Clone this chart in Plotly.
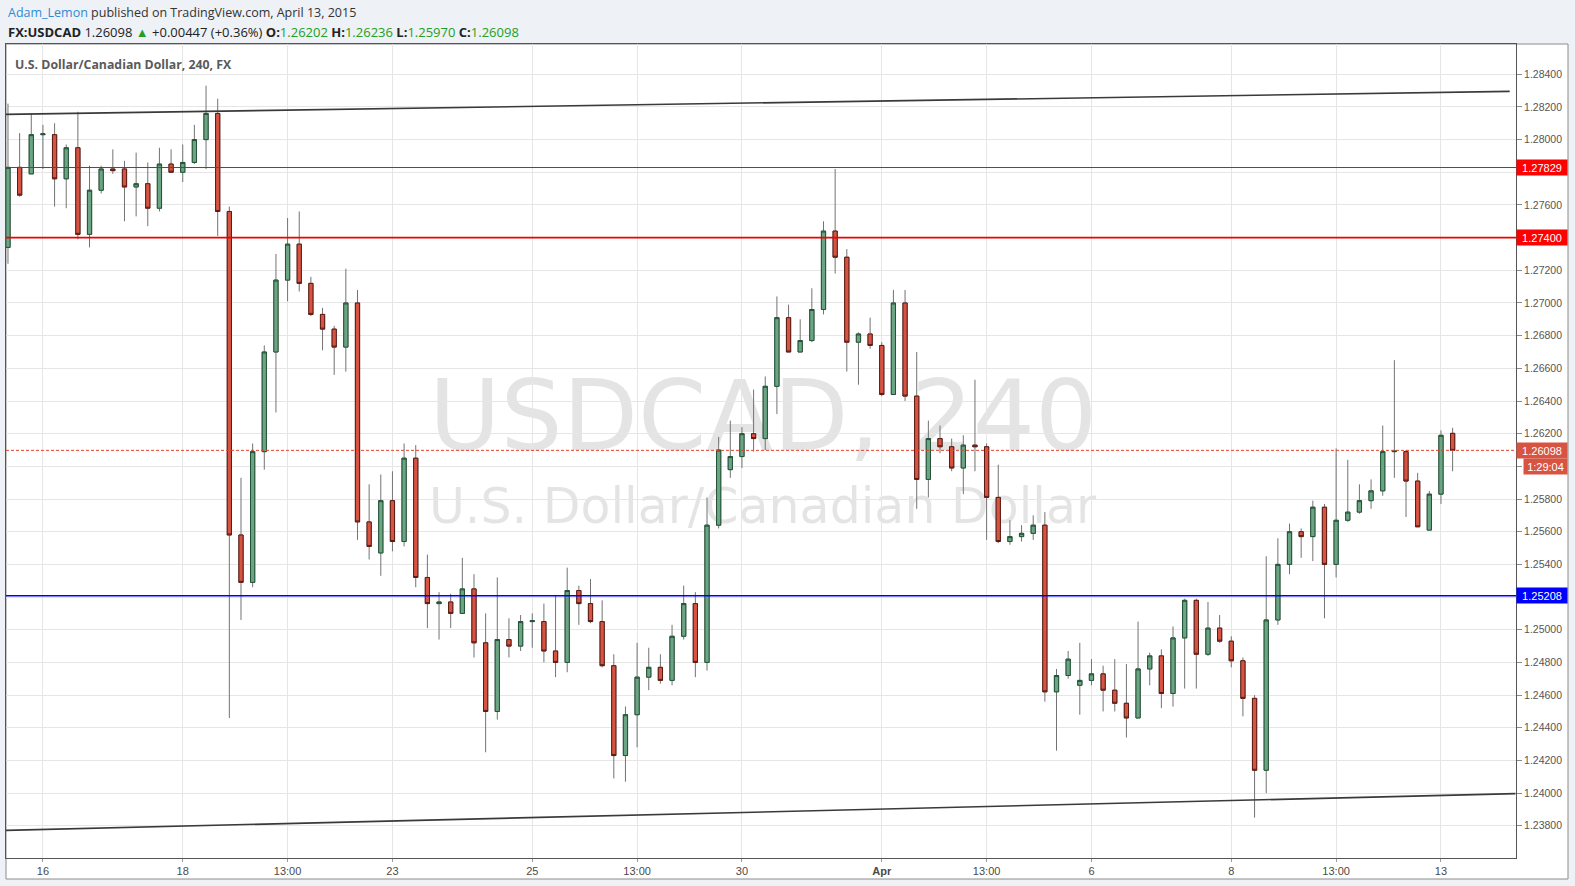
import plotly.graph_objects as go

# ---------------- data (USDCAD, 4H candles, index 0..124) ----------------
opens = [1.2734,1.2783,1.2779,1.2803,1.2803,1.2776,1.2795,1.2742,1.2769,1.2782,
 1.2782,1.2771,1.2773,1.2758,1.2785,1.2780,1.2786,1.2800,1.2816,1.2756,
 1.2558,1.2529,1.2609,1.2670,1.2714,1.2736,1.2712,1.2693,1.2684,1.2673,
 1.2700,1.2566,1.2547,1.2579,1.2554,1.2605,1.2532,1.2516,1.2517,1.2510,
 1.2525,1.2492,1.2450,1.2494,1.2490,1.2505,1.2505,1.2487,1.2480,1.2524,
 1.2516,1.2505,1.2478,1.2423,1.2448,1.2471,1.2477,1.2469,1.2496,1.2516,
 1.2480,1.2564,1.2598,1.2606,1.2620,1.2617,1.2649,1.2691,1.2670,1.2677,
 1.2696,1.2744,1.2728,1.2676,1.2681,1.2674,1.2644,1.2700,1.2643,1.2592,
 1.2617,1.2612,1.2599,1.2613,1.2612,1.2581,1.2554,1.2557,1.2559,1.2564,
 1.2462,1.2472,1.2466,1.2469,1.2473,1.2463,1.2455,1.2446,1.2476,1.2484,
 1.2461,1.2495,1.2518,1.2485,1.2501,1.2493,1.2481,1.2458,1.2414,1.2506,
 1.2540,1.2560,1.2557,1.2575,1.2540,1.2567,1.2572,1.2579,1.2585,1.2609,
 1.2609,1.2591,1.2561,1.2583,1.26202]

highs = [1.2822,1.2804,1.2816,1.2809,1.2810,1.2797,1.2817,1.2784,1.2784,1.2794,
 1.2787,1.2792,1.2786,1.2795,1.2794,1.2797,1.2809,1.2833,1.2825,1.2759,
 1.2593,1.2614,1.2674,1.2730,1.2752,1.2756,1.2716,1.2697,1.2686,1.2721,
 1.2708,1.2589,1.2595,1.2597,1.2614,1.2613,1.2546,1.2523,1.2522,1.2544,
 1.2534,1.2510,1.2532,1.2507,1.2509,1.2510,1.2516,1.2521,1.2538,1.2527,
 1.2531,1.2518,1.2485,1.2453,1.2492,1.2489,1.2485,1.2503,1.2527,1.2523,
 1.2581,1.2618,1.2628,1.2624,1.2647,1.2655,1.2704,1.2699,1.2690,1.2709,
 1.2750,1.2782,1.2733,1.2682,1.2691,1.2676,1.2708,1.2708,1.2670,1.2628,
 1.2625,1.2617,1.2619,1.2653,1.2614,1.2601,1.2567,1.2564,1.2570,1.2572,
 1.2476,1.2487,1.2492,1.2482,1.2478,1.2482,1.2479,1.2505,1.2486,1.2488,
 1.2502,1.2519,1.2519,1.2517,1.2509,1.2496,1.2483,1.2460,1.2545,1.2556,
 1.2565,1.2562,1.2579,1.2577,1.2611,1.2604,1.2589,1.2592,1.2625,1.2665,
 1.2610,1.2596,1.2585,1.2622,1.26236]

lows = [1.2724,1.2765,1.2779,1.2782,1.2759,1.2758,1.2739,1.2734,1.2767,1.2779,
 1.2750,1.2753,1.2747,1.2756,1.2780,1.2774,1.2785,1.2782,1.2741,1.2446,
 1.2506,1.2526,1.2598,1.2633,1.2701,1.2707,1.2692,1.2671,1.2656,1.2658,
 1.2555,1.2543,1.2533,1.2548,1.2551,1.2526,1.2501,1.2494,1.2501,1.2510,
 1.2483,1.2425,1.2445,1.2483,1.2487,1.2489,1.2480,1.2471,1.2474,1.2503,
 1.2504,1.2477,1.2409,1.2407,1.2428,1.2463,1.2467,1.2466,1.2494,1.2471,
 1.2475,1.2562,1.2593,1.2599,1.2609,1.2610,1.2632,1.2670,1.2670,1.2676,
 1.2693,1.2718,1.2658,1.2650,1.2672,1.2643,1.2644,1.2640,1.2574,1.2581,
 1.2608,1.2597,1.2583,1.2597,1.2555,1.2553,1.2552,1.2554,1.2555,1.2456,
 1.2426,1.2470,1.2448,1.2466,1.2450,1.2450,1.2434,1.2446,1.2466,1.2452,
 1.2453,1.2464,1.2464,1.2484,1.2492,1.2477,1.2447,1.2385,1.2400,1.2503,
 1.2534,1.2544,1.2542,1.2507,1.2532,1.2566,1.2571,1.2574,1.2582,1.2593,
 1.2569,1.2563,1.2561,1.2577,1.25970]

closes = [1.2783,1.2766,1.2803,1.28035,1.2776,1.2795,1.2742,1.2769,1.2782,1.2781,
 1.2771,1.2773,1.2758,1.2785,1.2780,1.2786,1.2800,1.2816,1.2756,1.2558,
 1.2529,1.2609,1.2670,1.2714,1.2736,1.2712,1.2693,1.2684,1.2673,1.2700,
 1.2566,1.2551,1.2579,1.2554,1.2605,1.2532,1.2516,1.2517,1.2510,1.2525,
 1.2492,1.2450,1.2494,1.2490,1.2505,1.25055,1.2487,1.2480,1.2524,1.2516,
 1.2505,1.2478,1.2423,1.2448,1.2471,1.2477,1.2469,1.2496,1.2516,1.2480,
 1.2564,1.2610,1.2606,1.2620,1.2617,1.2649,1.2691,1.2670,1.2677,1.2696,
 1.2744,1.2728,1.2676,1.2681,1.2674,1.2644,1.2700,1.2643,1.2592,1.2617,
 1.2612,1.2599,1.2613,1.2612,1.2581,1.2554,1.2557,1.2559,1.2564,1.2462,
 1.2472,1.2482,1.2469,1.2473,1.2463,1.2455,1.2446,1.2476,1.2484,1.2461,
 1.2495,1.2518,1.2485,1.2501,1.2493,1.2481,1.2458,1.2414,1.2506,1.2540,
 1.2560,1.2557,1.2575,1.2540,1.2567,1.2572,1.2579,1.2585,1.2609,1.26093,
 1.2591,1.2563,1.2583,1.2619,1.26098]

candle_idx = list(range(len(opens)))

tick_idx = [3, 15, 24, 33, 45, 54, 63, 75, 84, 93, 105, 114, 123]
tick_text = ["16", "18", "13:00", "23", "25", "13:00", "30", "<b>Apr</b>",
             "13:00", "6", "8", "13:00", "13"]

price_ticks = [1.238 + 0.002 * k for k in range(24)]   # 1.23800 ... 1.28400

level_red_thin = 1.27829
level_red = 1.27400
level_blue = 1.25208
last_price = closes[-1]
day_change = 0.00447
day_change_pct = 0.36
countdown = "1:29:04"

upper_line_x = [-0.17, 128.9]
upper_line_y = [1.28154, 1.28295]
lower_line_x = [-0.17, 129.4]
lower_line_y = [1.23772, 1.23997]

x_range = [-0.17, 129.44]
y_range = [1.23603, 1.28585]

# ---------------- geometry helpers ----------------
W, H = 1575, 886
ML, MR, MT, MB = 6, 59, 44, 28
PW, PH = W - ML - MR, H - MT - MB
PRICE_PER_PX = (y_range[1] - y_range[0]) / PH


def px(x):
    return (x - ML) / PW


def py(y):
    return 1 - (y - MT) / PH


UP_FILL, UP_LINE = "#6ba583", "#225437"
DN_FILL, DN_LINE = "#d75442", "#5b1a13"
WICK = "#737375"
GRID = "#e6e6e6"
GREEN_TXT = "#23a023"
COUNTDOWN_SHIFT = 16

# price labels hidden behind the coloured axis boxes
covered = [level_red_thin, level_red, level_blue, last_price,
           last_price - COUNTDOWN_SHIFT * PRICE_PER_PX]
price_tick_text = ["" if any(abs(t - c) < 0.00045 for c in covered) else f"{t:.5f}"
                   for t in price_ticks]

fig = go.Figure()

# watermark (own hidden subplot drawn underneath the price subplot)
fig.add_trace(go.Scatter(
    x=[px(429), px(429)], y=[py(425.5), py(510.5)],
    mode="text", text=["USDCAD, 240", "U.S. Dollar/Canadian Dollar"],
    textposition="middle right",
    textfont=dict(family="DejaVu Sans", size=[97.8, 49], color="rgba(0,0,0,0.105)"),
    xaxis="x", yaxis="y", hoverinfo="skip", showlegend=False))

# wicks
fig.add_trace(go.Candlestick(
    x=candle_idx, open=opens, high=highs, low=lows, close=closes,
    increasing=dict(line=dict(color=WICK, width=1), fillcolor=WICK),
    decreasing=dict(line=dict(color=WICK, width=1), fillcolor=WICK),
    whiskerwidth=0, xaxis="x2", yaxis="y2", showlegend=False, hoverinfo="skip"))

# bodies
body_hi = [max(o, c) for o, c in zip(opens, closes)]
body_lo = [min(o, c) for o, c in zip(opens, closes)]
fig.add_trace(go.Candlestick(
    x=candle_idx, open=opens, high=body_hi, low=body_lo, close=closes,
    increasing=dict(line=dict(color=UP_LINE, width=1), fillcolor=UP_FILL),
    decreasing=dict(line=dict(color=DN_LINE, width=1), fillcolor=DN_FILL),
    whiskerwidth=0, xaxis="x2", yaxis="y2", showlegend=False))

shapes = [
    # white chart container
    dict(type="rect", xref="paper", yref="paper", x0=0, x1=px(1568), y0=py(879), y1=1,
         fillcolor="white", line=dict(color="#8c8c8c", width=1), layer="below"),
    dict(type="line", xref="paper", yref="y2", x0=0, x1=1, y0=level_red_thin, y1=level_red_thin,
         line=dict(color="#ff0000", width=1), layer="above"),
    dict(type="line", xref="paper", yref="y2", x0=0, x1=1, y0=level_red, y1=level_red,
         line=dict(color="#f00000", width=1.6), layer="above"),
    dict(type="line", xref="paper", yref="y2", x0=0, x1=1, y0=level_blue, y1=level_blue,
         line=dict(color="#0000ff", width=1.6), layer="above"),
    dict(type="line", xref="paper", yref="y2", x0=0, x1=1, y0=last_price, y1=last_price,
         line=dict(color="#e5432f", width=1, dash="3px,2px"), layer="above"),
    dict(type="line", xref="x2", yref="y2", x0=upper_line_x[0], x1=upper_line_x[1],
         y0=upper_line_y[0], y1=upper_line_y[1], line=dict(color="#3a3a3a", width=1.6), layer="above"),
    dict(type="line", xref="x2", yref="y2", x0=lower_line_x[0], x1=lower_line_x[1],
         y0=lower_line_y[0], y1=lower_line_y[1], line=dict(color="#3a3a3a", width=1.6), layer="above"),
]


def price_box(val, color):
    return dict(xref="paper", yref="y2", x=1.0, y=val, xanchor="left", yanchor="middle",
                text=f"{val:.5f}", showarrow=False, bgcolor=color, width=46, height=11,
                borderpad=2, align="center",
                font=dict(family="Liberation Sans, Arial", size=11, color="white"))


o_, h_, l_, c_ = opens[-1], highs[-1], lows[-1], closes[-1]
hdr2 = (f"<b>FX:USDCAD</b> {c_:.5f} <span style='color:{GREEN_TXT}'>▲</span> "
        f"+{day_change:.5f} (+{day_change_pct:.2f}%) "
        f"<b>O:</b><span style='color:{GREEN_TXT}'>{o_:.5f}</span> "
        f"<b>H:</b><span style='color:{GREEN_TXT}'>{h_:.5f}</span> "
        f"<b>L:</b><span style='color:{GREEN_TXT}'>{l_:.5f}</span> "
        f"<b>C:</b><span style='color:{GREEN_TXT}'>{c_:.5f}</span>")

annotations = [
    dict(xref="paper", yref="paper", x=px(6), y=py(12.5), xanchor="left", yanchor="middle",
         showarrow=False,
         text="<span style='color:#2f8ad6'>Adam_Lemon</span> published on TradingView.com, April 13, 2015",
         font=dict(family="Open Sans", size=12.5, color="#333333")),
    dict(xref="paper", yref="paper", x=px(6), y=py(32.3), xanchor="left", yanchor="middle",
         showarrow=False, text=hdr2, font=dict(family="Open Sans", size=13, color="#222222")),
    dict(xref="paper", yref="paper", x=px(13), y=py(64.5), xanchor="left", yanchor="middle",
         showarrow=False, text="<b>U.S. Dollar/Canadian Dollar, 240, FX</b>",
         font=dict(family="Open Sans", size=12.3, color="#5a5a5a")),
    price_box(level_red_thin, "#ff0000"),
    price_box(level_red, "#ff0000"),
    price_box(level_blue, "#0000ff"),
    price_box(last_price, "#d75442"),
    dict(xref="paper", yref="y2", x=px(1522.7), y=last_price, yshift=-COUNTDOWN_SHIFT,
         xanchor="left", yanchor="middle", text=countdown, showarrow=False,
         bgcolor="#d75442", width=39, height=11, borderpad=2, align="center",
         font=dict(family="Liberation Sans, Arial", size=11, color="white")),
]

fig.update_layout(
    width=W, height=H,
    margin=dict(l=ML, r=MR, t=MT, b=MB, pad=0),
    paper_bgcolor="#eef1f5", plot_bgcolor="rgba(0,0,0,0)",
    showlegend=False, boxgap=0.48, boxmode="overlay",
    xaxis=dict(domain=[0, 1], range=[0, 1], visible=False, fixedrange=True),
    yaxis=dict(domain=[0, 1], range=[0, 1], visible=False, fixedrange=True),
    xaxis2=dict(domain=[0, 1], anchor="y2", range=x_range, tickmode="array",
                tickvals=tick_idx, ticktext=tick_text, showgrid=True, gridcolor=GRID,
                gridwidth=1, zeroline=False, showline=True, linecolor="#555555",
                linewidth=1, mirror=True, ticks="outside", ticklen=3, tickcolor="#9a9a9a",
                tickfont=dict(family="Liberation Sans, Arial", size=11, color="#4a4a4a"),
                rangeslider=dict(visible=False)),
    yaxis2=dict(domain=[0, 1], anchor="x2", side="right", range=y_range,
                tickmode="array", tickvals=price_ticks, ticktext=price_tick_text,
                showgrid=True, gridcolor=GRID,
                gridwidth=1, zeroline=False, showline=True, linecolor="#555555",
                linewidth=1, mirror=True, ticks="outside", ticklen=5, tickcolor="#8a8a8a",
                tickfont=dict(family="Liberation Sans, Arial", size=10.5, color="#555555")),
    shapes=shapes, annotations=annotations,
)

fig.write_html("out.html", config={"displayModeBar": False},
               post_script="document.body.style.margin='0';document.body.style.overflow='hidden';")
